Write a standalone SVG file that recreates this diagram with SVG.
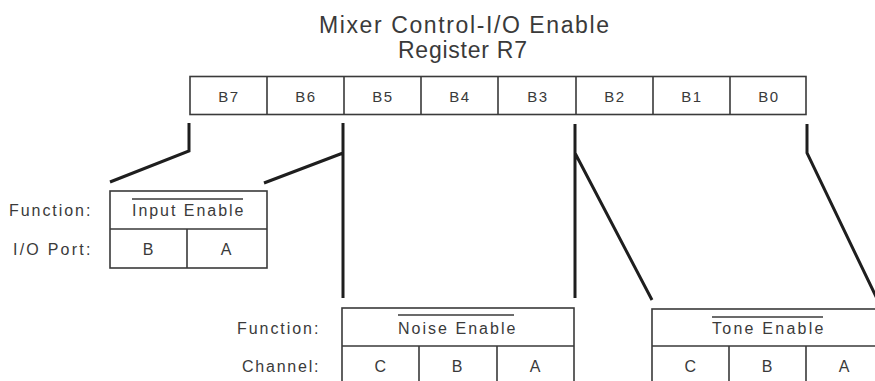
<svg xmlns="http://www.w3.org/2000/svg" width="875" height="381" viewBox="0 0 875 381">
<style>
text{font-family:"Liberation Sans",Arial,sans-serif;fill:#3a3a3a}
.t{font-size:23px}
.s{font-size:16px;letter-spacing:1.6px}
.r{font-size:15px;letter-spacing:1.6px}
.c{text-anchor:middle}
.box{fill:#fff;stroke:#3a3a3a;stroke-width:1.6}
.div{stroke:#3a3a3a;stroke-width:1.6;fill:none}
.ol{stroke:#3a3a3a;stroke-width:1.3}
.con{stroke:#1e1e1e;stroke-width:3;fill:none;stroke-linejoin:miter}
</style>
<rect width="875" height="381" fill="#fff"/>
<g id="title">
<text class="t" x="319" y="33" textLength="290" lengthAdjust="spacing">Mixer Control-I/O Enable</text>
<text class="t" x="398" y="58" textLength="129" lengthAdjust="spacing">Register R7</text>
</g>
<g id="register">
<rect class="box" x="190" y="76.5" width="616" height="38"/>
<path class="div" d="M267 76.5V114.5M344 76.5V114.5M421 76.5V114.5M498 76.5V114.5M576 76.5V114.5M653 76.5V114.5M730 76.5V114.5"/>
<text class="r c" x="229" y="102">B7</text>
<text class="r c" x="306" y="102">B6</text>
<text class="r c" x="383" y="102">B5</text>
<text class="r c" x="460" y="102">B4</text>
<text class="r c" x="538" y="102">B3</text>
<text class="r c" x="615" y="102">B2</text>
<text class="r c" x="692" y="102">B1</text>
<text class="r c" x="769" y="102">B0</text>
</g>
<g id="connectors">
<path class="con" d="M189 123V151L110 182"/>
<path class="con" d="M343 123V298M343 153L264 183"/>
<path class="con" d="M575 124V298M575 153L652 300"/>
<path class="con" d="M807 124V153L880 305"/>
</g>
<g id="input-enable">
<text class="s" x="9" y="216" textLength="83" lengthAdjust="spacing">Function:</text>
<text class="s" x="13" y="255" textLength="79" lengthAdjust="spacing">I/O Port:</text>
<rect class="box" x="110" y="191" width="157" height="77"/>
<path class="div" d="M110 229H267M187 229V268"/>
<line class="ol" x1="132" y1="199" x2="243" y2="199"/>
<text class="s" x="132" y="216" textLength="113" lengthAdjust="spacing">Input Enable</text>
<text class="s c" x="149" y="255">B</text>
<text class="s c" x="227" y="255">A</text>
</g>
<g id="noise-enable">
<text class="s" x="237" y="334" textLength="83" lengthAdjust="spacing">Function:</text>
<text class="s" x="242" y="372" textLength="78" lengthAdjust="spacing">Channel:</text>
<rect class="box" x="342" y="308" width="232" height="90"/>
<path class="div" d="M342 346H574M419 346V398M497 346V398"/>
<line class="ol" x1="398" y1="315" x2="514" y2="315"/>
<text class="s" x="398" y="334" textLength="119" lengthAdjust="spacing">Noise Enable</text>
<text class="s c" x="381" y="372">C</text>
<text class="s c" x="458" y="372">B</text>
<text class="s c" x="536" y="372">A</text>
</g>
<g id="tone-enable">
<rect class="box" x="652" y="309" width="231" height="90"/>
<path class="div" d="M652 346H883M729 346V399M806 346V399"/>
<line class="ol" x1="712" y1="317" x2="823" y2="317"/>
<text class="s" x="712" y="334" textLength="113" lengthAdjust="spacing">Tone Enable</text>
<text class="s c" x="691" y="372">C</text>
<text class="s c" x="768" y="372">B</text>
<text class="s c" x="845" y="372">A</text>
</g>
</svg>
